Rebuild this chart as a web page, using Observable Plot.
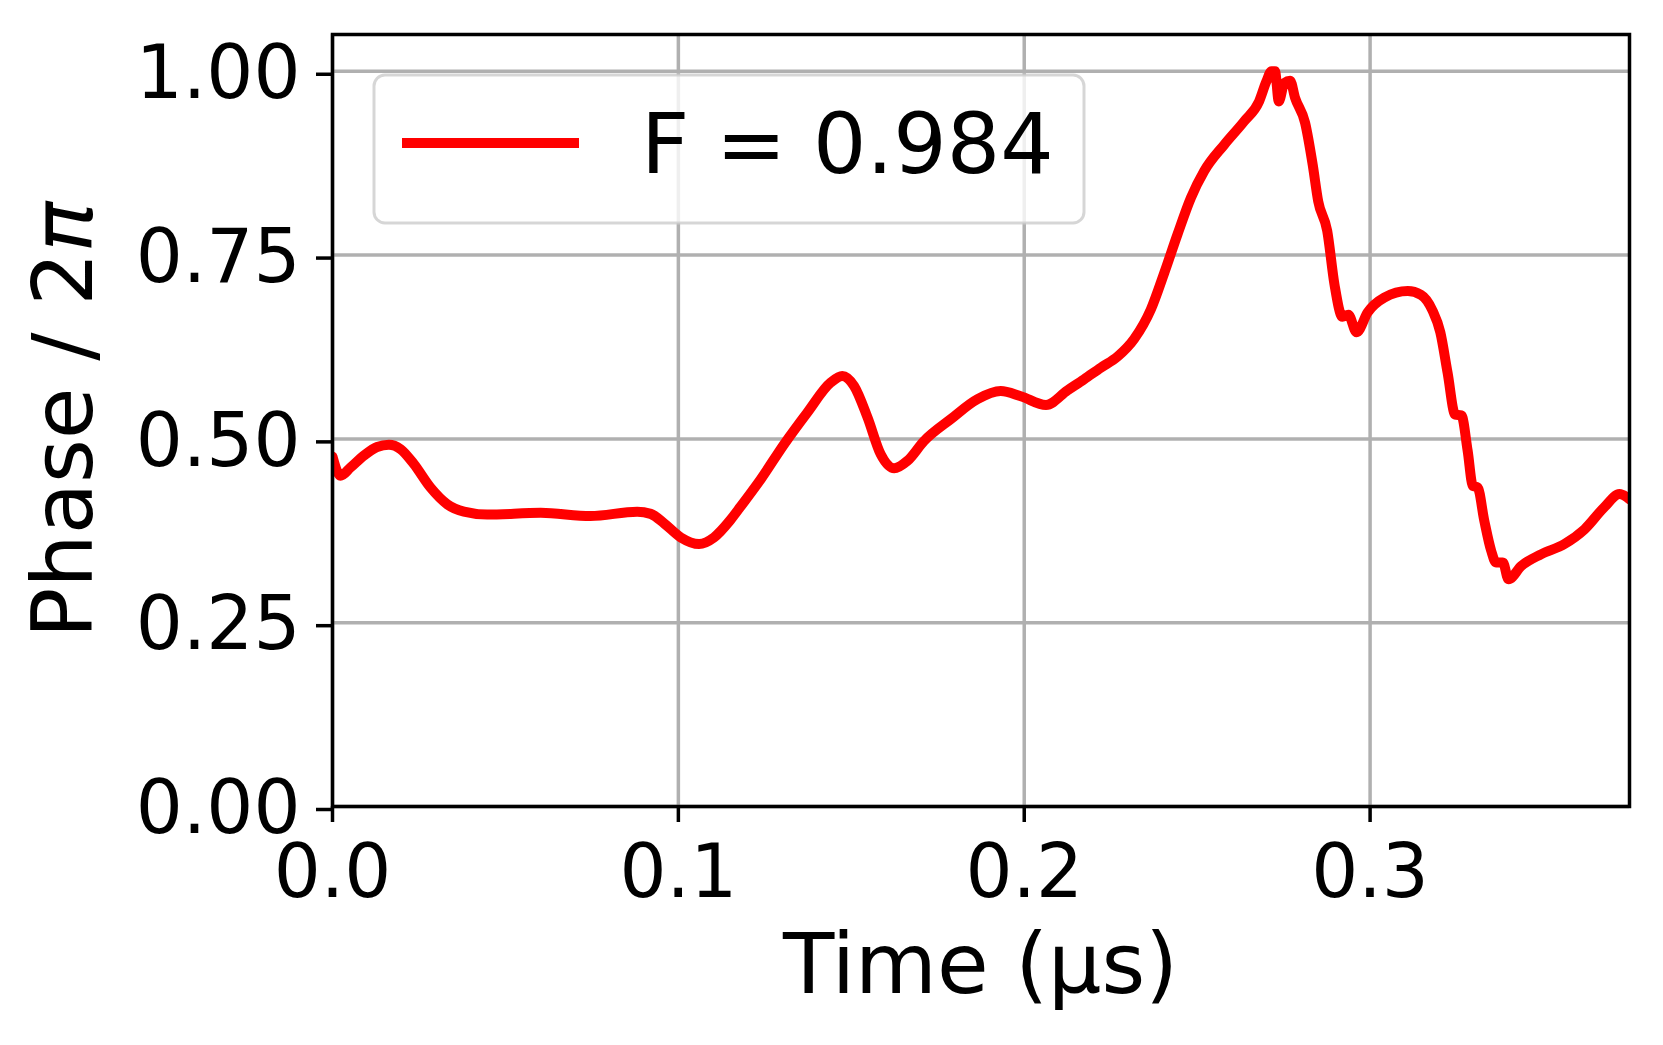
<!DOCTYPE html>
<html>
<head>
<meta charset="utf-8">
<script src="https://cdn.jsdelivr.net/npm/d3@7"></script>
<script src="https://cdn.jsdelivr.net/npm/@observablehq/plot@0.6"></script>
<style>
  html, body { margin: 0; padding: 0; background: white; overflow: hidden; }
  #chart svg { display: block; }
</style>
</head>
<body>
<div id="chart"></div>
<script>
// ---- data ----
const time = [0.0000,0.0023,0.0052,0.0090,0.0129,0.0163,0.0197,0.0235,0.0283,0.0332,0.0380,0.0447,0.0602,0.0746,0.0881,0.0920,0.0959,0.1007,0.1060,0.1103,0.1151,0.1180,0.1238,0.1306,0.1373,0.1440,0.1474,0.1508,0.1547,0.1585,0.1624,0.1662,0.1710,0.1788,0.1865,0.1932,0.1990,0.2063,0.2125,0.2173,0.2222,0.2270,0.2318,0.2366,0.2405,0.2443,0.2482,0.2520,0.2578,0.2636,0.2679,0.2700,0.2715,0.2725,0.2736,0.2752,0.2769,0.2783,0.2812,0.2834,0.2850,0.2876,0.2897,0.2920,0.2937,0.2961,0.2993,0.3041,0.3109,0.3147,0.3180,0.3203,0.3224,0.3246,0.3264,0.3282,0.3297,0.3311,0.3330,0.3350,0.3364,0.3384,0.3400,0.3437,0.3494,0.3562,0.3620,0.3677,0.3721,0.3750];
const phase = [0.476,0.450,0.461,0.477,0.489,0.492,0.486,0.466,0.434,0.411,0.401,0.397,0.3995,0.395,0.401,0.398,0.385,0.366,0.357,0.366,0.390,0.408,0.445,0.493,0.536,0.5765,0.5856,0.572,0.529,0.479,0.460,0.470,0.497,0.527,0.554,0.565,0.558,0.546,0.566,0.581,0.597,0.612,0.636,0.676,0.726,0.778,0.828,0.864,0.900,0.932,0.959,0.986,1.000,1.000,0.959,0.984,0.987,0.964,0.930,0.873,0.823,0.783,0.710,0.666,0.669,0.645,0.672,0.692,0.701,0.696,0.675,0.645,0.590,0.533,0.532,0.484,0.436,0.434,0.389,0.348,0.332,0.332,0.309,0.327,0.343,0.357,0.377,0.407,0.425,0.418];
const xTicks = [0.0, 0.1, 0.2, 0.3];
const yTicks = [0.00, 0.25, 0.50, 0.75, 1.00];
const seriesLabel = "F = 0.984";
const xLabel = "Time (µs)";
const yLabelMain = "Phase / 2";
const yLabelSym = "π";

const data = time.map((t, i) => ({t, v: phase[i]}));

const W = 1663, H = 1045;
const mL = 332, mR = 34, mT = 34, mB = 239;
const FONT = "DejaVu Sans";

const chart = Plot.plot({
  width: W, height: H,
  marginLeft: mL, marginRight: mR, marginTop: mT, marginBottom: mB,
  style: {fontFamily: FONT, background: "white", color: "black"},
  x: {domain: [0, 0.375]},
  y: {domain: [0, 1.05]},
  marks: [
    Plot.gridX({ticks: xTicks, stroke: "#b0b0b0", strokeOpacity: 1, strokeWidth: 3.5}),
    Plot.gridY({ticks: yTicks, stroke: "#b0b0b0", strokeOpacity: 1, strokeWidth: 3.5}),
    Plot.line(data, {x: "t", y: "v", stroke: "red", strokeWidth: 10, curve: "monotone-x", clip: true}),
    Plot.frame({stroke: "black", strokeWidth: 3.5}),
    Plot.axisX({ticks: xTicks, tickFormat: d3.format(".1f"), tickSize: 16, tickPadding: 22, fontSize: 74, strokeWidth: 3.5, label: null, color: "black"}),
    Plot.axisY({ticks: yTicks, tickFormat: d3.format(".2f"), tickSize: 16, tickPadding: 16, fontSize: 74, strokeWidth: 3.5, dy: 3, label: null, color: "black"})
  ]
});

document.getElementById("chart").appendChild(chart);

const svg = d3.select(chart);

// axis labels
svg.append("text")
  .attr("x", (mL + (W - mR)) / 2)
  .attr("y", 993)
  .attr("text-anchor", "middle")
  .attr("font-family", FONT)
  .attr("font-size", 84)
  .attr("fill", "black")
  .text(xLabel);

const yl = svg.append("text")
  .attr("transform", `translate(92, ${(mT + (H - mB)) / 2}) rotate(-90)`)
  .attr("text-anchor", "middle")
  .attr("font-family", FONT)
  .attr("font-size", 84)
  .attr("fill", "black");
yl.append("tspan").text(yLabelMain);
yl.append("tspan").attr("font-style", "italic").text(yLabelSym);

// legend (upper left)
const lg = svg.append("g");
lg.append("rect")
  .attr("x", mL + 42).attr("y", mT + 41)
  .attr("width", 710).attr("height", 148)
  .attr("rx", 11).attr("ry", 11)
  .attr("fill", "white").attr("fill-opacity", 0.8)
  .attr("stroke", "#cccccc").attr("stroke-opacity", 0.8).attr("stroke-width", 3);
lg.append("line")
  .attr("x1", mL + 70).attr("x2", mL + 247)
  .attr("y1", mT + 109).attr("y2", mT + 109)
  .attr("stroke", "red").attr("stroke-width", 10);
lg.append("text")
  .attr("x", mL + 309).attr("y", mT + 139)
  .attr("text-anchor", "start")
  .attr("font-family", FONT)
  .attr("font-size", 84)
  .attr("fill", "black")
  .text(seriesLabel);
</script>
</body>
</html>
